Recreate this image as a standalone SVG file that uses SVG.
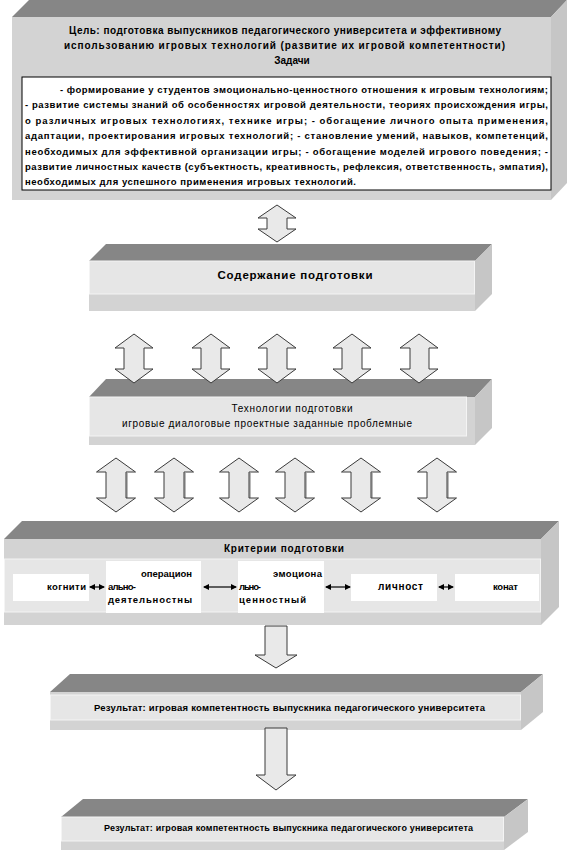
<svg xmlns="http://www.w3.org/2000/svg" width="567" height="850" viewBox="0 0 567 850">
<style>
.top{fill:#868686}
.front{fill:#d3d3d3}
.inner{fill:#e6e6e6;stroke:#f4f4f4;stroke-width:1}
.side{fill:#c6c6c6}
.wbox{fill:#ffffff}
.arr{fill:#e9e9e9;stroke:#3a3a3a;stroke-width:1}
.arrsh{fill:none;stroke:#8a8a8a;stroke-width:1.2}
.t{font-family:"Liberation Sans",Arial,sans-serif;font-weight:bold;fill:#000}
.n{font-family:"Liberation Sans",Arial,sans-serif;font-weight:normal;fill:#000}
.sm{stroke:#000;stroke-width:1.2}
</style>
<defs>
<marker id="ah" markerWidth="6" markerHeight="6" refX="5" refY="3" orient="auto-start-reverse" markerUnits="userSpaceOnUse">
<path d="M0,0 L6,3 L0,6 Z" fill="#000"/>
</marker>
</defs>

<g id="goal">
<polygon class="top" points="12,17 29,0 567,0 551,17"/>
<rect class="front" x="12" y="17" width="539" height="183"/>
<polygon class="side" points="551,17 567,0 567,183 551,200"/>
<rect class="wbox" x="22" y="77" width="529" height="113" stroke="#000" stroke-width="1"/>
<text class="t" x="69" y="34" font-size="10" textLength="432">Цель:  подготовка выпускников педагогического университета  и эффективному</text>
<text class="t" x="64" y="49" font-size="10" textLength="441">использованию игровых  технологий (развитие их игровой компетентности)</text>
<text class="t" x="292" y="64" font-size="10" text-anchor="middle">Задачи</text>
<text class="t" x="60" y="92.5" font-size="9.5" textLength="488">- формирование у студентов эмоционально-ценностного отношения к игровым технологиям;</text>
<text class="t" x="25" y="107.5" font-size="9.5" textLength="523">- развитие системы знаний об особенностях игровой деятельности, теориях происхождения игры,</text>
<text class="t" x="25" y="123.5" font-size="9.5" textLength="523">о различных игровых технологиях, технике игры; - обогащение личного опыта применения,</text>
<text class="t" x="25" y="139" font-size="9.5" textLength="523">адаптации, проектирования игровых технологий; - становление умений, навыков, компетенций,</text>
<text class="t" x="25" y="154.5" font-size="9.5" textLength="523">необходимых для эффективной организации игры; - обогащение моделей игрового поведения; -</text>
<text class="t" x="25" y="170" font-size="9.5" textLength="523">развитие личностных качеств (субъектность, креативность, рефлексия, ответственность,  эмпатия),</text>
<text class="t" x="25" y="184.5" font-size="9.5" textLength="331">необходимых для успешного применения игровых технологий.</text>
</g>

<g id="content">
<polygon class="top" points="89,261 106,244 492,244 475,261"/>
<rect class="front" x="89" y="261" width="386" height="50"/>
<rect class="inner" x="89.5" y="261" width="385" height="33"/>
<polygon class="side" points="475,261 492,244 492,294 475,311"/>
<text class="t" x="295" y="279" font-size="11.5" text-anchor="middle" textLength="155">Содержание подготовки</text>
</g>

<g id="technologies">
<polygon class="top" points="89,397 106,379 492,379 475,397"/>
<rect class="front" x="89" y="397" width="386" height="48"/>
<rect class="inner" x="89.5" y="397" width="377" height="39"/>
<polygon class="side" points="475,397 492,379 492,428 475,445"/>
<text class="n" x="292" y="412" font-size="10" text-anchor="middle" textLength="121">Технологии подготовки</text>
<text class="n" x="122" y="427" font-size="10" textLength="290">игровые диалоговые проектные заданные проблемные</text>
</g>

<g id="criteria">
<polygon class="top" points="4,539 22,521 559,521 541,539"/>
<rect class="front" x="4" y="539" width="537" height="86"/>
<rect class="inner" x="4.5" y="559" width="536" height="53"/>
<polygon class="side" points="541,539 559,521 559,607 541,625"/>
<text class="t" x="284" y="552" font-size="10" text-anchor="middle" textLength="120">Критерии  подготовки</text>
</g>

<g id="crit-cognitive">
<rect class="wbox" x="13" y="574" width="76" height="27"/>
<text class="t" x="47" y="590" font-size="9.5" textLength="39">когнити</text>
</g>
<g id="crit-operational">
<rect class="wbox" x="106" y="561" width="95" height="52"/>
<text class="t" x="141" y="577" font-size="9.5" textLength="51">операцион</text>
<text class="t" x="108" y="590" font-size="9.5" textLength="28">ально-</text>
<text class="t" x="108" y="603" font-size="9.5" textLength="84">деятельностны</text>
</g>
<g id="crit-emotional">
<rect class="wbox" x="238" y="561" width="86" height="52"/>
<text class="t" x="273" y="577" font-size="9.5" textLength="49">эмоциона</text>
<text class="t" x="239" y="590" font-size="9.5" textLength="22">льно-</text>
<text class="t" x="239" y="603" font-size="9.5" textLength="67">ценностный</text>
</g>
<g id="crit-personal">
<rect class="wbox" x="351" y="574" width="86" height="27"/>
<text class="t" x="378" y="590" font-size="10" textLength="45">личност</text>
</g>
<g id="crit-conative">
<rect class="wbox" x="455" y="574" width="84" height="27"/>
<text class="t" x="493" y="590" font-size="9.5" textLength="25">конат</text>
</g>

<g id="result1">
<polygon class="top" points="50,692 70,674 543,674 521,692"/>
<rect class="front" x="50" y="692" width="471" height="38"/>
<rect class="inner" x="50.5" y="695" width="470" height="25"/>
<polygon class="side" points="521,692 543,674 543,712 521,730"/>
<text class="t" x="94" y="711" font-size="9.5" textLength="391">Результат: игровая компетентность выпускника педагогического  университета</text>
</g>

<g id="result2">
<polygon class="top" points="61,817 83,799 528,799 504,817"/>
<rect class="front" x="61" y="817" width="443" height="33"/>
<rect class="inner" x="61.5" y="817" width="442" height="24"/>
<polygon class="side" points="504,817 528,799 528,832 504,850"/>
<text class="t" x="104" y="831" font-size="9" textLength="369">Результат: игровая компетентность выпускника педагогического  университета</text>
</g>

<g id="connectors">
<path class="arr" d="M277,205 L296,218 L287,218 L287,229 L296,229 L277,242 L258,229 L267,229 L267,218 L258,218 Z"/>

<path class="arr" d="M134,334 L153,348 L144,348 L144,369 L153,369 L134,383 L115,369 L124,369 L124,348 L115,348 Z"/>
<path class="arr" d="M211,334 L230,348 L221,348 L221,369 L230,369 L211,383 L192,369 L201,369 L201,348 L192,348 Z"/>
<path class="arr" d="M277,334 L296,348 L287,348 L287,369 L296,369 L277,383 L258,369 L267,369 L267,348 L258,348 Z"/>
<path class="arr" d="M352,334 L371,348 L362,348 L362,369 L371,369 L352,383 L333,369 L342,369 L342,348 L333,348 Z"/>
<path class="arr" d="M419,334 L438,348 L429,348 L429,369 L438,369 L419,383 L400,369 L410,369 L410,348 L400,348 Z"/>

<path class="arrsh" d="M127,473 L127,499 M185,473 L185,499 M250,473 L250,499 M306,473 L306,499 M372,473 L372,499 M448,473 L448,499"/>
<path class="arr" d="M116,458 L135.5,472 L126,472 L126,498 L135.5,498 L116,512 L96.5,498 L106,498 L106,472 L96.5,472 Z"/>
<path class="arr" d="M174,458 L193.5,472 L184,472 L184,498 L193.5,498 L174,512 L154.5,498 L164,498 L164,472 L154.5,472 Z"/>
<path class="arr" d="M239,458 L258.5,472 L249,472 L249,498 L258.5,498 L239,512 L219.5,498 L229,498 L229,472 L219.5,472 Z"/>
<path class="arr" d="M295,458 L314.5,472 L305,472 L305,498 L314.5,498 L295,512 L275.5,498 L285,498 L285,472 L275.5,472 Z"/>
<path class="arr" d="M361,458 L380.5,472 L371,472 L371,498 L380.5,498 L361,512 L341.5,498 L351,498 L351,472 L341.5,472 Z"/>
<path class="arr" d="M437,458 L456.5,472 L447,472 L447,498 L456.5,498 L437,512 L417.5,498 L427,498 L427,472 L417.5,472 Z"/>

<line class="sm" x1="90" y1="587" x2="104" y2="587" marker-start="url(#ah)" marker-end="url(#ah)"/>
<line class="sm" x1="204" y1="587" x2="236" y2="587" marker-start="url(#ah)" marker-end="url(#ah)"/>
<line class="sm" x1="326" y1="587" x2="350" y2="587" marker-start="url(#ah)" marker-end="url(#ah)"/>
<line class="sm" x1="439" y1="587" x2="453" y2="587" marker-start="url(#ah)" marker-end="url(#ah)"/>

<path class="arr" d="M265,626 L287,626 L287,655 L297,655 L276,668 L255,655 L265,655 Z"/>
<path class="arr" d="M265,728 L287,728 L287,775 L296,775 L276,790 L256,775 L265,775 Z"/>
</g>
</svg>
